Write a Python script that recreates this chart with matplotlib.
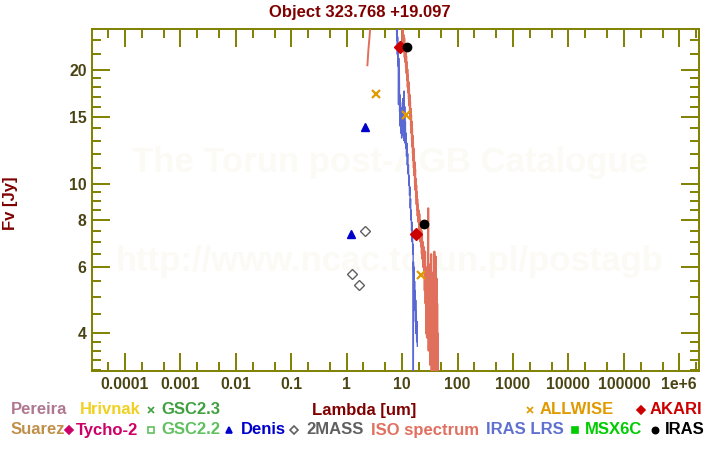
import numpy as np
import matplotlib
matplotlib.use("Agg")
import matplotlib.pyplot as plt
from matplotlib.lines import Line2D
from matplotlib.ticker import FixedLocator, NullFormatter

plt.rcParams['font.family'] = ['Liberation Sans', 'DejaVu Sans']
plt.rcParams['font.weight'] = 'bold'

# photometry, wavelength [um] and flux [Jy]
twomass_wl = [1.235, 1.662, 2.159]
twomass_f = [5.74, 5.39, 7.46]
denis_wl = [1.22, 2.15]
denis_f = [7.35, 14.1]
allwise_wl = [3.35, 11.56, 22.09]
allwise_f = [17.3, 15.2, 5.71]
akari_wl = [9.0, 18.0]
akari_f = [23.0, 7.35]
iras_wl = [12.0, 25.0]
iras_f = [23.0, 7.79]

# ISO SWS spectrum (wl, flux)
iso_points = [
    (2.36, 20.6), (2.40, 21.3), (2.45, 22.4), (2.52, 23.5), (2.60, 24.8),
    (2.70, 26.5), (2.90, 29.0), (3.3, 33.0), (4.0, 38.0), (5.0, 42.0),
    (6.0, 44.0), (7.0, 42.0), (8.0, 38.0), (9.0, 32.0), (9.6, 28.0),
    (10.1, 26.0), (10.2, 23.8), (10.35, 25.6), (10.5, 23.0), (10.65, 24.8),
    (10.8, 22.4), (10.95, 24.3), (11.1, 21.6), (11.25, 23.4), (11.4, 21.0),
    (11.55, 22.5), (11.7, 20.4), (11.85, 21.8), (12.0, 19.6), (12.15, 21.0),
    (12.3, 18.8), (12.45, 20.1), (12.6, 18.0), (12.75, 19.4), (12.9, 17.4),
    (13.05, 18.6), (13.2, 16.8), (13.35, 17.9), (13.5, 16.1), (13.65, 17.2),
    (13.8, 15.4), (13.95, 16.5), (14.1, 14.8), (14.25, 15.8), (14.4, 14.2),
    (14.55, 15.2), (14.7, 13.6), (14.85, 14.6), (15.0, 13.0), (15.15, 14.0),
    (15.3, 12.5), (15.45, 13.4), (15.6, 12.0), (15.75, 12.9), (15.9, 11.5),
    (16.05, 12.4), (16.2, 11.0), (16.4, 11.9), (16.6, 10.5), (16.8, 11.4),
    (17.0, 10.0), (17.2, 10.9), (17.4, 9.6), (17.6, 10.3), (17.8, 9.2),
    (18.0, 9.9), (18.2, 8.8), (18.4, 9.5), (18.6, 8.5), (18.8, 9.1),
    (19.0, 8.2), (19.3, 8.8), (19.6, 7.9), (19.9, 8.5), (20.2, 7.6),
    (20.5, 8.3), (20.8, 7.3), (21.1, 8.0), (21.4, 7.0), (21.7, 7.8),
    (22.0, 6.8), (22.3, 7.5), (22.6, 6.5), (22.9, 7.3), (23.2, 6.3),
    (23.6, 7.0), (24.0, 6.0), (24.4, 6.8), (24.8, 5.8), (25.2, 6.6),
    (25.5, 5.2), (26.0, 6.6), (26.4, 4.8), (26.8, 6.0), (27.2, 4.0),
    (27.6, 5.8), (28.0, 3.9), (28.4, 5.6), (28.8, 4.2), (29.2, 6.0),
    (29.6, 8.6), (30.0, 3.6), (30.5, 5.4), (31.0, 4.6), (31.5, 6.1),
    (32.0, 3.3), (32.5, 5.8), (33.0, 4.0), (33.5, 6.5), (34.0, 3.0),
    (34.6, 5.5), (35.2, 3.5), (35.8, 5.8), (36.4, 2.8), (37.0, 5.2),
    (37.6, 2.6), (38.2, 6.6), (38.8, 2.4), (39.4, 6.0), (40.0, 2.2),
    (40.6, 6.4), (41.2, 2.0), (41.8, 5.6), (42.4, 1.8), (43.0, 4.8),
    (43.6, 1.6), (44.2, 4.0), (44.8, 1.5), (45.2, 3.0),
]

# IRAS LRS spectrum
lrs_points = [
    (7.9, 27.0), (8.0, 24.0), (8.1, 25.8), (8.2, 22.0), (8.3, 24.5),
    (8.4, 20.5), (8.5, 23.0), (8.6, 16.2), (8.7, 21.5), (8.8, 18.0),
    (8.9, 19.8), (9.0, 15.5), (9.1, 17.2), (9.2, 14.2), (9.35, 16.4),
    (9.5, 13.6), (9.65, 15.6), (9.8, 13.2), (9.95, 15.9), (10.1, 13.8),
    (10.25, 16.8), (10.4, 13.4), (10.55, 15.2), (10.7, 13.0), (10.85, 17.6),
    (11.0, 13.6), (11.15, 16.0), (11.3, 12.8), (11.45, 14.6), (11.6, 12.4),
    (11.8, 13.6), (12.0, 11.8), (12.2, 12.8), (12.4, 11.2), (12.6, 12.0),
    (12.8, 10.6), (13.0, 11.2), (13.2, 9.9), (13.4, 10.5), (13.6, 9.3),
    (13.8, 9.8), (14.0, 8.6), (14.2, 9.1), (14.4, 8.0), (14.6, 8.5),
    (14.8, 7.5), (15.0, 7.9), (15.2, 7.0), (15.4, 7.3), (15.6, 6.5),
    (15.8, 6.9), (15.9, 2.0), (16.0, 6.2), (16.2, 5.6), (16.4, 6.0),
    (16.6, 5.0), (16.8, 5.5), (17.0, 4.6), (17.2, 5.2), (17.4, 4.3),
    (17.6, 4.9), (17.8, 4.0), (18.0, 4.6), (18.3, 3.8), (18.6, 4.3),
    (18.8, 3.7),
]

x_major = [1e-4, 1e-3, 1e-2, 1e-1, 1, 10, 100, 1e3, 1e4, 1e5, 1e6]
x_labels = ['0.0001', '0.001', '0.01', '0.1', '1', '10', '100', '1000',
            '10000', '100000', '1e+6']
y_major = [4, 6, 8, 10, 15, 20]
y_labels = ['4', '6', '8', '10', '15', '20']

legend_labels = ['Pereira', 'Hrivnak', 'GSC2.3', 'ALLWISE', 'AKARI',
                 'Suarez', 'Tycho-2', 'GSC2.2', 'Denis', '2MASS',
                 'ISO spectrum', 'IRAS LRS', 'MSX6C', 'IRAS']
legend_colors = ['#b07890', '#f0d020', '#40a040', '#e09a00', '#cc0000',
                 '#c0904a', '#cc0066', '#60c060', '#0000cc', '#606060',
                 '#e07060', '#6070d0', '#00cc00', '#000000']
legend_markers = [None, None, 'x', 'x', 'D',
                  None, 'D', 's', '^', 'D',
                  None, None, 's', 'o']
legend_open = [False, False, False, False, False,
               False, False, True, False, True,
               False, False, False, False]
# pixel layout of the legend rows (text left, marker x, y)
legend_text_x = [11, 80, 161, 540, 650, 11, 76, 161, 241, 306, 371, 486, 585, 665]
legend_mark_x = [0, 0, 151, 530, 641, 0, 69, 151, 229, 294, 0, 0, 575, 655]
legend_y = [410] * 5 + [430] * 9

W, H = 720, 450
fig = plt.figure(figsize=(7.2, 4.5), dpi=100)
ax = fig.add_axes([92.3 / W, 1 - 371 / H, 607 / W, 341.7 / H])

olive = '#808000'
ticklab = '#4a4414'
darkred = '#800000'

iso_wl, iso_f = zip(*iso_points)
lrs_wl, lrs_f = zip(*lrs_points)

ax.plot(lrs_wl, lrs_f, color='#5a68d4', lw=1.0, zorder=3)
ax.plot(iso_wl, iso_f, color='#e0705c', lw=1.4, zorder=4)

ax.plot(twomass_wl, twomass_f, 'D', ms=5.5, mfc='white', mec='#606060', mew=1.0, ls='none', zorder=5)
ax.plot(denis_wl, denis_f, '^', ms=6, color='#0000cc', ls='none', zorder=5)
ax.plot(allwise_wl, allwise_f, 'x', ms=6, mew=1.6, color='#e09a00', ls='none', zorder=6)
ax.plot(akari_wl, akari_f, 'D', ms=6, color='#cc0000', ls='none', zorder=6)
ax.plot(iras_wl, iras_f, 'o', ms=6, color='#000000', ls='none', zorder=6)

ax.set_xscale('log')
ax.set_yscale('log')
ax.set_xlim(2.57e-5, 2.3e6)
ax.set_ylim(3.18, 25.66)

x_minor = [m * 10.0 ** e for e in range(-5, 7) for m in (2, 5)]
y_minor = [3.2, 3.4, 3.6, 3.8, 4.5, 5, 5.5, 6.5, 7, 7.5, 8.5, 9, 9.5,
           11, 12, 13, 14, 16, 17, 18, 19, 22, 24]
ax.xaxis.set_major_locator(FixedLocator(x_major))
ax.set_xticklabels(x_labels)
ax.xaxis.set_minor_locator(FixedLocator(x_minor))
ax.xaxis.set_minor_formatter(NullFormatter())
ax.yaxis.set_major_locator(FixedLocator(y_major))
ax.set_yticklabels(y_labels)
ax.yaxis.set_minor_locator(FixedLocator(y_minor))
ax.yaxis.set_minor_formatter(NullFormatter())

ax.tick_params(which='both', direction='in', top=True, right=True,
               color=olive, width=1.4, labelcolor=ticklab, labelsize=11.3)
ax.tick_params(which='major', length=13, pad=4)
ax.tick_params(which='minor', length=6.5)
for lab in ax.get_xticklabels() + ax.get_yticklabels():
    lab.set_fontweight('bold')
for sp in ax.spines.values():
    sp.set_color(olive)
    sp.set_linewidth(1.4)

# watermark
ax.text(0.49, 0.61, 'The Torun post-AGB Catalogue', transform=ax.transAxes,
        ha='center', va='center', fontsize=25, color='#fbfaf5', zorder=0)
ax.text(0.49, 0.32, 'http://www.ncac.torun.pl/postagb', transform=ax.transAxes,
        ha='center', va='center', fontsize=25, color='#fbfaf5', zorder=0)

fig.text(360 / W, 1 - 12 / H, 'Object 323.768 +19.097', ha='center', va='center',
         fontsize=12, color=darkred)
fig.text(364 / W, 1 - 410 / H, 'Lambda [um]', ha='center', va='center',
         fontsize=12, color=darkred)
fig.text(11 / W, 1 - 203 / H, 'Fv [Jy]', ha='center', va='center', rotation=90,
         fontsize=12, color=darkred)

for i, lab in enumerate(legend_labels):
    yy = 1 - legend_y[i] / H
    fig.text(legend_text_x[i] / W, yy, lab, ha='left', va='center',
             fontsize=12, color=legend_colors[i])
    if legend_markers[i] is not None:
        fc = 'white' if legend_open[i] else legend_colors[i]
        fig.add_artist(Line2D([legend_mark_x[i] / W], [yy], marker=legend_markers[i],
                              ms=4.5, mfc=fc, mec=legend_colors[i], mew=1.2,
                              transform=fig.transFigure))

fig.savefig('out.png', dpi=100, facecolor='white')
